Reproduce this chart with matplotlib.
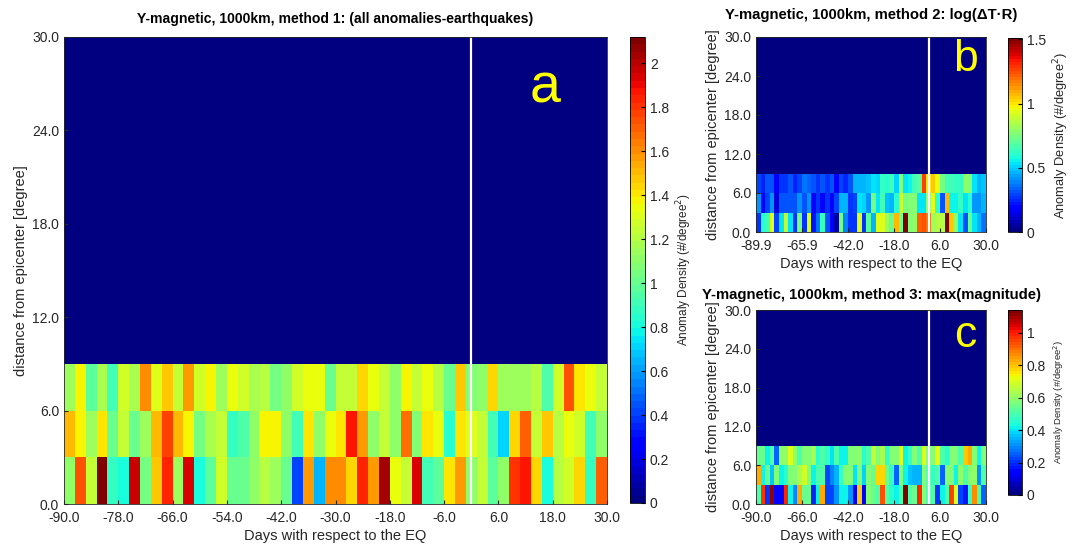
import numpy as np
import matplotlib
matplotlib.use("Agg")
import matplotlib.pyplot as plt
from matplotlib.ticker import FormatStrFormatter

plt.rcParams["font.family"] = ["Liberation Sans", "DejaVu Sans"]

# ------------------------------------------------------------------ data
# day bins (50 bins from -90 to +30) and 3-degree distance rings up to 30
day_edges = np.linspace(-90, 30, 51)
dist_edges = np.arange(0, 33, 3)

# method 1: rows 0-3, 3-6, 6-9 deg (everything above is zero)
m1_r0 = [1.12, 1.73, 1.25, 2.10, 0.88, 0.80, 1.98, 1.03, 1.48, 1.83,
         1.15, 1.95, 0.82, 0.97, 1.28, 1.00, 1.00, 1.12, 1.20, 1.15,
         1.00, 0.42, 1.57, 0.66, 1.62, 1.62, 1.45, 1.85, 1.58, 2.05,
         1.33, 1.25, 1.95, 0.90, 0.97, 1.42, 1.57, 1.12, 1.25, 0.97,
         1.10, 1.82, 1.88, 1.45, 0.82, 1.22, 1.28, 1.45, 0.88, 1.72]
m1_r1 = [1.50, 1.38, 1.13, 1.42, 1.00, 1.25, 1.00, 1.15, 1.50, 1.78,
         1.50, 1.38, 1.03, 1.18, 1.25, 0.89, 0.94, 1.12, 1.38, 1.38,
         1.12, 0.92, 1.40, 1.12, 1.33, 1.42, 1.88, 1.57, 1.12, 1.25,
         1.12, 1.68, 1.06, 1.42, 1.35, 0.85, 1.42, 1.30, 1.25, 0.92,
         0.70, 1.45, 1.70, 1.25, 1.48, 1.22, 1.33, 1.28, 0.90, 1.10]
m1_r2 = [1.15, 1.38, 0.97, 1.18, 0.92, 1.28, 1.18, 1.60, 1.30, 1.48,
         1.25, 1.57, 1.28, 1.38, 1.13, 1.33, 1.28, 1.18, 1.22, 1.03,
         1.12, 1.28, 1.33, 1.33, 1.00, 1.25, 1.25, 1.45, 1.33, 1.25,
         1.12, 1.38, 1.25, 1.33, 1.20, 1.00, 1.48, 1.06, 1.10, 1.45,
         1.15, 1.15, 1.13, 1.20, 0.95, 1.28, 1.75, 1.40, 1.35, 1.25]

# method 2: log(dT*R)
m2_r0 = [0.28, 0.60, 0.66, 0.94, 0.30, 0.53, 0.88, 0.53, 0.28, 0.75,
         0.28, 0.94, 0.22, 0.37, 0.62, 0.32, 0.17, 0.05, 0.75, 0.40,
         0.28, 0.28, 0.94, 0.28, 0.70, 0.45, 0.93, 0.93, 0.82, 0.73,
         1.08, 0.75, 1.50, 0.77, 0.80, 1.22, 1.25, 1.20, 0.82, 0.85,
         0.86, 1.50, 1.06, 0.80, 0.53, 0.32, 0.72, 0.53, 0.45, 0.37]
m2_r1 = [0.42, 0.19, 0.30, 0.42, 0.13, 0.32, 0.32, 0.33, 0.33, 0.42,
         0.33, 0.42, 0.18, 0.28, 0.20, 0.28, 0.18, 0.30, 0.45, 0.45,
         0.28, 0.30, 0.53, 0.50, 0.42, 0.75, 0.53, 0.66, 0.48, 0.47,
         0.60, 0.92, 0.75, 0.77, 0.77, 0.53, 0.53, 0.80, 0.95, 0.62,
         0.32, 1.07, 0.55, 0.55, 0.62, 0.53, 0.60, 0.42, 0.42, 0.45]
m2_r2 = [0.30, 0.25, 0.32, 0.33, 0.17, 0.28, 0.27, 0.33, 0.25, 0.30,
         0.36, 0.34, 0.32, 0.28, 0.33, 0.27, 0.32, 0.18, 0.30, 0.25,
         0.33, 0.47, 0.47, 0.47, 0.48, 0.52, 0.50, 0.63, 0.60, 0.66,
         0.50, 0.77, 0.53, 0.55, 0.66, 0.70, 1.27, 1.00, 1.05, 0.95,
         0.75, 0.66, 0.66, 0.63, 0.63, 0.78, 0.77, 0.52, 0.46, 0.48]

# method 3: max(magnitude)
m3_r0 = [0.50, 0.97, 0.20, 1.12, 0.13, 0.15, 0.98, 0.41, 0.29, 0.83,
         0.54, 0.54, 0.18, 0.41, 0.82, 0.23, 0.23, 0.31, 0.41, 0.41,
         0.31, 0.12, 0.80, 0.13, 0.57, 0.54, 0.50, 0.93, 0.50, 0.45,
         0.41, 0.50, 1.13, 0.50, 0.54, 0.98, 0.57, 0.50, 0.50, 0.20,
         0.41, 0.50, 0.95, 0.71, 0.23, 0.17, 0.48, 0.86, 0.50, 0.25]
m3_r1 = [0.83, 0.41, 0.54, 0.36, 0.57, 0.41, 0.45, 0.57, 0.57, 0.64,
         0.68, 0.57, 0.41, 0.50, 0.50, 0.23, 0.29, 0.34, 0.48, 0.57,
         0.57, 0.40, 0.57, 0.38, 0.57, 0.54, 0.78, 0.78, 0.54, 0.48,
         0.25, 0.57, 0.41, 0.36, 0.34, 0.34, 0.57, 0.50, 0.48, 0.50,
         0.25, 0.57, 0.57, 0.41, 0.60, 0.50, 0.57, 0.60, 0.31, 0.50]
m3_r2 = [0.54, 0.54, 0.41, 0.50, 0.25, 0.60, 0.60, 0.70, 0.60, 0.50,
         0.57, 0.57, 0.64, 0.45, 0.50, 0.48, 0.40, 0.50, 0.41, 0.41,
         0.57, 0.57, 0.60, 0.45, 0.50, 0.66, 0.57, 0.64, 0.48, 0.57,
         0.57, 0.71, 0.41, 0.48, 0.57, 0.50, 0.71, 0.57, 0.57, 0.72,
         0.50, 0.45, 0.57, 0.57, 0.50, 0.80, 0.82, 0.57, 0.41, 0.57]

# colour limits
vmax_a, vmax_b, vmax_c = 2.12, 1.51, 1.14

W, H = 1077, 545
CMAP = plt.get_cmap("jet", 64)
INK = "#262626"


def box(l, t, r, b):
    """pixel box -> figure fraction rect"""
    return [l / W, 1 - b / H, (r - l) / W, (b - t) / H]


def grid(rows):
    z = np.zeros((len(dist_edges) - 1, len(day_edges) - 1))
    for i, r in enumerate(rows):
        z[i] = r
    return z


def panel(fig, ax_box, cb_box, rows, vmax, title, title_fs, title_pad,
          xticks, xlabels, cticks, cb_fs, letter, letter_pos, letter_size,
          fs=10):
    ax = fig.add_axes(box(*ax_box))
    mesh = ax.pcolormesh(day_edges, dist_edges, grid(rows), cmap=CMAP,
                         vmin=0, vmax=vmax, shading="flat")
    ax.axvline(0, color="white", lw=1.6)
    ax.set_xlim(-90, 30)
    ax.set_ylim(0, 30)
    ax.set_xticks(xticks)
    ax.set_xticklabels(xlabels)
    ax.set_yticks(np.arange(0, 31, 6))
    ax.yaxis.set_major_formatter(FormatStrFormatter("%.1f"))
    ax.tick_params(direction="in", length=3, labelsize=fs, colors=INK,
                   labelcolor=INK)
    ax.tick_params(axis="x", pad=5)
    ax.set_xlabel("Days with respect to the EQ", fontsize=fs + 0.5,
                  color=INK, labelpad=3)
    ax.set_ylabel("distance from epicenter [degree]", fontsize=fs + 0.5,
                  color=INK, labelpad=3)
    ax.set_title(title, fontsize=title_fs, fontweight="bold", pad=title_pad)
    for s in ax.spines.values():
        s.set_color(INK)
        s.set_linewidth(0.6)
    ax.text(letter_pos[0], letter_pos[1], letter, transform=ax.transAxes,
            color="#ffff00", fontsize=letter_size, ha="center", va="center")

    cax = fig.add_axes(box(*cb_box))
    cb = fig.colorbar(mesh, cax=cax)
    cb.set_ticks(cticks)
    cb.ax.yaxis.set_major_formatter(FormatStrFormatter("%g"))
    cb.ax.tick_params(direction="in", length=3, labelsize=fs,
                      labelcolor=INK)
    cb.outline.set_linewidth(0.6)
    cb.set_label("Anomaly Density (#/degree$^2$)", fontsize=cb_fs,
                 color=INK, labelpad=4)
    return ax


fig = plt.figure(figsize=(W / 100, H / 100), dpi=100)

panel(fig, (64, 37, 607, 504), (630, 37, 645, 503), [m1_r0, m1_r1, m1_r2],
      vmax_a, "Y-magnetic, 1000km, method 1: (all anomalies-earthquakes)",
      10.1, 10,
      np.arange(-90, 31, 12), [f"{v:.1f}" for v in np.arange(-90, 31, 12)],
      np.arange(0, 2.01, 0.2), 8.5, "a", (0.886, 0.89), 40)

panel(fig, (756, 37, 986, 232), (1008, 38, 1022, 232), [m2_r0, m2_r1, m2_r2],
      vmax_b, "Y-magnetic, 1000km, method 2: log(\u0394T\u00b7R)",
      10.7, 13,
      [-90, -66, -42, -18, 6, 30],
      ["-89.9", "-65.9", "-42.0", "-18.0", "6.0", "30.0"],
      [0, 0.5, 1, 1.5], 9.3, "b", (0.909, 0.885), 32)

panel(fig, (756, 310, 986, 504), (1008, 310, 1022, 495), [m3_r0, m3_r1, m3_r2],
      vmax_c, "Y-magnetic, 1000km, method 3: max(magnitude)",
      10.7, 8,
      [-90, -66, -42, -18, 6, 30],
      ["-90.0", "-66.0", "-42.0", "-18.0", "6.0", "30.0"],
      [0, 0.2, 0.4, 0.6, 0.8, 1.0], 6.8, "c", (0.909, 0.87), 32)

fig.savefig("out.png", dpi=100)
